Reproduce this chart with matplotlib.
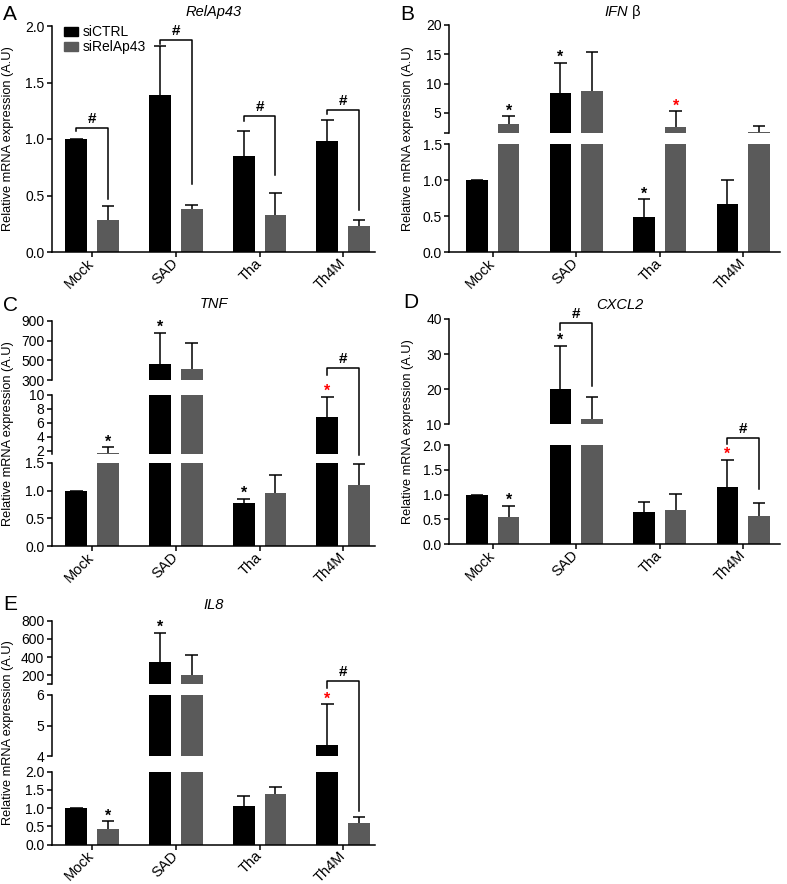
import numpy as np
import matplotlib
matplotlib.use('Agg')
import matplotlib.pyplot as plt
from matplotlib.lines import Line2D
from matplotlib.patches import Patch

groups = ['Mock', 'SAD', 'Tha', 'Th4M']

# RelAp43
relap_ctrl = [1.00, 1.39, 0.85, 0.98]
relap_ctrl_err = [0.0, 0.43, 0.22, 0.19]
relap_si = [0.28, 0.38, 0.33, 0.23]
relap_si_err = [0.13, 0.04, 0.19, 0.05]

# IFN beta
ifn_ctrl = [1.00, 8.45, 0.48, 0.66]
ifn_ctrl_err = [0.0, 5.1, 0.25, 0.34]
ifn_si = [3.05, 8.8, 2.65, 1.68]
ifn_si_err = [1.4, 6.55, 2.65, 1.1]

# TNF
tnf_ctrl = [1.00, 463, 0.77, 6.85]
tnf_ctrl_err = [0.0, 318, 0.08, 2.9]
tnf_si = [1.6, 409, 0.96, 1.11]
tnf_si_err = [0.9, 270, 0.32, 0.38]

# CXCL2
cxcl_ctrl = [1.00, 20.1, 0.64, 1.16]
cxcl_ctrl_err = [0.0, 12.3, 0.20, 0.54]
cxcl_si = [0.55, 11.4, 0.69, 0.57]
cxcl_si_err = [0.22, 6.5, 0.33, 0.25]

# IL8
il8_ctrl = [1.00, 349, 1.05, 4.38]
il8_ctrl_err = [0.0, 319, 0.29, 1.32]
il8_si = [0.42, 203, 1.38, 0.59]
il8_si_err = [0.22, 220, 0.19, 0.18]

# stars: (group, series 0=siCTRL 1=siRelAp43, colour)
ifn_stars = [(0, 1, 'black'), (1, 0, 'black'), (2, 0, 'black'), (2, 1, 'red')]
tnf_stars = [(0, 1, 'black'), (1, 0, 'black'), (2, 0, 'black'), (3, 0, 'red')]
cxcl_stars = [(0, 1, 'black'), (1, 0, 'black'), (3, 0, 'red')]
il8_stars = [(0, 1, 'black'), (1, 0, 'black'), (3, 0, 'red')]

# '#' brackets: (group, y_top, seg_top, y_left, seg_left, y_right, seg_right)
relap_hash = [(0, 1.10, 0, 1.07, 0, 0.47, 0), (1, 1.88, 0, 1.84, 0, 0.60, 0),
              (2, 1.20, 0, 1.16, 0, 0.68, 0), (3, 1.26, 0, 1.22, 0, 0.37, 0)]
tnf_hash = [(3, 425, 2, 350, 2, 1.64, 0)]
cxcl_hash = [(1, 38.9, 1, 37.0, 1, 20.8, 1), (3, 2.15, 0, 2.03, 0, 1.12, 0)]
il8_hash = [(3, 141, 2, 57, 2, 0.93, 0)]

plt.rcParams['font.family'] = ['Liberation Sans', 'DejaVu Sans']

W, H = 787, 884
fig = plt.figure(figsize=(W / 100, H / 100), dpi=100)
GRAY = '#5a5a5a'
LW = 1.1
OFF, BW, CAP = 0.19, 0.26, 0.075
xpos = np.arange(len(groups))

LEFT = ((52, 375), (-0.48, 3.38))
RIGHT = ((449.3, 780), (-0.52, 3.44))


def add_ax(x0, x1, ytop, ybot):
    return fig.add_axes([x0 / W, 1 - ybot / H, (x1 - x0) / W, (ybot - ytop) / H])


def seg_of(segs, v):
    for k, s in enumerate(segs):
        if s[2] <= v <= s[3]:
            return k
    return None


def panel(col, segs, ctrl, ctrl_err, si, si_err):
    (x0, x1), xlim = col
    axes = []
    for i, (ytop, ybot, lo, hi, ticks, labels) in enumerate(segs):
        ax = add_ax(x0, x1, ytop, ybot)
        ax.set_xlim(*xlim)
        ax.set_ylim(lo, hi)
        for off, vals, errs, c in [(-OFF, ctrl, ctrl_err, 'black'), (OFF, si, si_err, GRAY)]:
            xs = xpos + off
            ax.bar(xs, vals, BW, color=c, linewidth=0)
            # error bar only in the segment holding its top
            for xv, v, e in zip(xs, vals, errs):
                if seg_of(segs, v + e) == i:
                    ax.vlines(xv, v, v + e, color='black', lw=LW)
                    ax.hlines(v + e, xv - CAP, xv + CAP, color='black', lw=LW)
        for s in ['top', 'right']:
            ax.spines[s].set_visible(False)
        ax.spines['left'].set_linewidth(LW)
        ax.spines['bottom'].set_linewidth(LW)
        if i == 0:
            ax.set_xticks(xpos)
            ax.set_xticklabels(groups, rotation=45, ha='right', va='center',
                               rotation_mode='anchor', fontsize=10.5)
        else:
            ax.spines['bottom'].set_visible(False)
            ax.set_xticks([])
        ax.set_yticks(ticks)
        ax.set_yticklabels(labels, fontsize=10)
        ax.tick_params(axis='both', width=LW, length=3.5)
        ax.tick_params(axis='y', pad=2)
        ax.tick_params(axis='x', pad=3)
        ax.patch.set_alpha(0)
        axes.append(ax)
    return axes


def fig_xy(ax, xv, yv):
    return fig.transFigure.inverted().transform(ax.transData.transform((xv, yv)))


def stars(axes, ctrl, ctrl_err, si, si_err, marks):
    for g, s, c in marks:
        v = [ctrl, si][s][g] + [ctrl_err, si_err][s][g]
        xv = xpos[g] + (OFF if s else -OFF)
        for ax in axes:
            lo, hi = ax.get_ylim()
            if lo <= v <= hi:
                ax.annotate('*', (xv, v), xytext=(0, 0.5), textcoords='offset points',
                            ha='center', va='baseline', fontsize=11.5, fontweight='bold',
                            color=c, annotation_clip=False)
                break


def hashes(axes, marks):
    for g, yt, st, yl, sl, yr, sr in marks:
        xl, xr = xpos[g] - OFF, xpos[g] + OFF
        p = [fig_xy(axes[sl], xl, yl), fig_xy(axes[st], xl, yt),
             fig_xy(axes[st], xr, yt), fig_xy(axes[sr], xr, yr)]
        fig.add_artist(Line2D([q[0] for q in p], [q[1] for q in p],
                              transform=fig.transFigure, color='black', lw=LW))
        fig.text((p[1][0] + p[2][0]) / 2, p[1][1] + 5 / H, '#', ha='center',
                 va='baseline', fontsize=11, fontweight='bold')


def lower(ytop, ybot, top, step):
    ticks = list(np.round(np.arange(0, top + 0.01, step), 2))
    return (ytop, ybot, 0, top, ticks, [f'{t:.1f}' for t in ticks])


# A
axA = panel(LEFT, [(26, 252, 0, 2.0, [0, 0.5, 1, 1.5, 2], ['0.0', '0.5', '1.0', '1.5', '2.0'])],
            relap_ctrl, relap_ctrl_err, relap_si, relap_si_err)
hashes(axA, relap_hash)

# B
axB = panel(RIGHT, [lower(144, 252, 1.5, 0.5),
                    (25, 133.3, 1.5, 20, [1.5, 5, 10, 15, 20], ['', '5', '10', '15', '20'])],
            ifn_ctrl, ifn_ctrl_err, ifn_si, ifn_si_err)
stars(axB, ifn_ctrl, ifn_ctrl_err, ifn_si, ifn_si_err, ifn_stars)

# C
axC = panel(LEFT, [lower(463, 546, 1.5, 0.5),
                   (395, 454, 1.5, 10, [2, 4, 6, 8, 10], ['2', '4', '6', '8', '10']),
                   (321, 380, 300, 900, [300, 500, 700, 900], ['300', '500', '700', '900'])],
            tnf_ctrl, tnf_ctrl_err, tnf_si, tnf_si_err)
stars(axC, tnf_ctrl, tnf_ctrl_err, tnf_si, tnf_si_err, tnf_stars)
hashes(axC, tnf_hash)

# D
axD = panel(RIGHT, [lower(445, 544, 2.0, 0.5),
                    (319, 424.3, 10, 40, [10, 20, 30, 40], ['10', '20', '30', '40'])],
            cxcl_ctrl, cxcl_ctrl_err, cxcl_si, cxcl_si_err)
stars(axD, cxcl_ctrl, cxcl_ctrl_err, cxcl_si, cxcl_si_err, cxcl_stars)
hashes(axD, cxcl_hash)

# E
axE = panel(LEFT, [lower(771.7, 844.7, 2.0, 0.5),
                   (695, 756.3, 4, 6, [4, 5, 6], ['4', '5', '6']),
                   (620.7, 684.4, 100, 800, [100, 200, 400, 600, 800], ['', '200', '400', '600', '800'])],
            il8_ctrl, il8_ctrl_err, il8_si, il8_si_err)
stars(axE, il8_ctrl, il8_ctrl_err, il8_si, il8_si_err, il8_stars)
hashes(axE, il8_hash)

# titles
TS = 10.5
fig.text(213.5 / W, 1 - 12 / H, 'RelAp43', style='italic', ha='center', va='center', fontsize=TS)
fig.text(628 / W, 1 - 12 / H, 'IFN', style='italic', ha='right', va='center', fontsize=TS)
fig.text(628 / W, 1 - 12 / H, ' β', ha='left', va='center', fontsize=TS)
fig.text(213.5 / W, 1 - 304 / H, 'TNF', style='italic', ha='center', va='center', fontsize=TS)
fig.text(620 / W, 1 - 305 / H, 'CXCL2', style='italic', ha='center', va='center', fontsize=TS)
fig.text(213.5 / W, 1 - 605 / H, 'IL8', style='italic', ha='center', va='center', fontsize=TS)

# panel letters
for lab, lx, ly in [('A', 3, 14.5), ('B', 400, 15), ('C', 3, 305.5), ('D', 403, 303), ('E', 3, 605)]:
    fig.text(lx / W, 1 - ly / H, lab, ha='left', va='center', fontsize=15)

# y labels
for lx, ly in [(8, 139), (408, 138.5), (8, 433.5), (408, 431.5), (8, 732.7)]:
    fig.text(lx / W, 1 - ly / H, 'Relative mRNA expression (A.U)', rotation=90,
             ha='center', va='center', fontsize=9.2)

# legend
handles = [Patch(color='black'), Patch(color=GRAY)]
fig.legend(handles, ['siCTRL', 'siRelAp43'], loc='upper left',
           bbox_to_anchor=(64 / W, 1 - 25 / H), frameon=False, fontsize=10,
           handlelength=1.0, handleheight=0.6, handletextpad=0.35,
           labelspacing=0.1, borderpad=0, borderaxespad=0)

fig.savefig('out.png', dpi=100)
